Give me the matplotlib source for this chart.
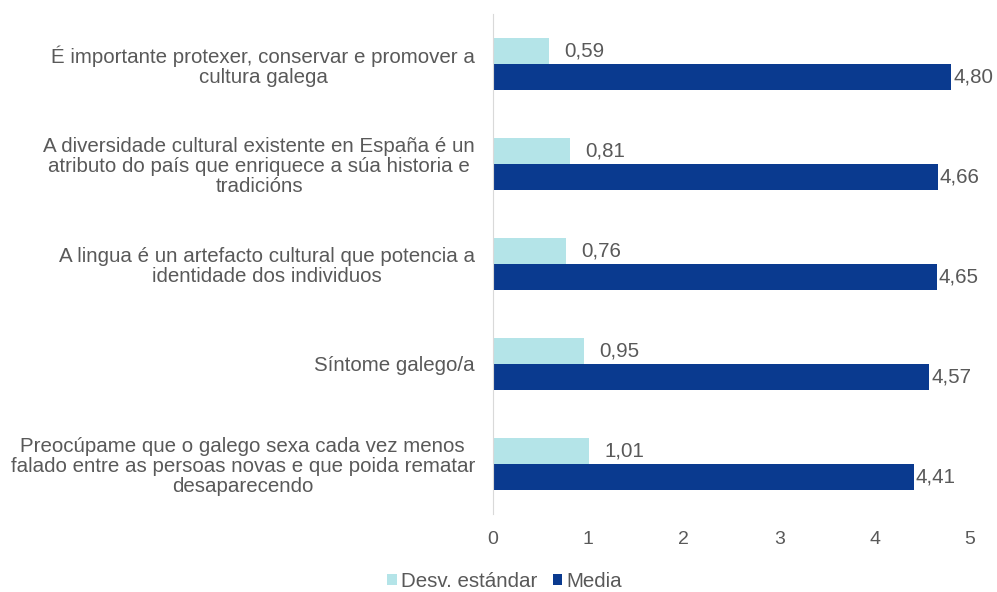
import numpy as np
import matplotlib.pyplot as plt

plt.rcParams['font.family'] = ['Liberation Sans', 'DejaVu Sans']

categories = [
    "É importante protexer, conservar e promover a\ncultura galega",
    "A diversidade cultural existente en España é un\natributo do país que enriquece a súa historia e\ntradicións",
    "A lingua é un artefacto cultural que potencia a\nidentidade dos individuos",
    "Síntome galego/a",
    "Preocúpame que o galego sexa cada vez menos\nfalado entre as persoas novas e que poida rematar\ndesaparecendo",
]
desv = [0.59, 0.81, 0.76, 0.95, 1.01]
media = [4.80, 4.66, 4.65, 4.57, 4.41]
xticks = [0, 1, 2, 3, 4, 5]

light = '#b4e4e8'
dark = '#0a3a8f'
grey = '#595959'
fs = 14.8

fig = plt.figure(figsize=(9.97, 5.92), dpi=100)
ax = fig.add_axes([0.4945, 0.132, 0.4785, 0.844])

y = np.arange(len(categories))
h = 0.26
b1 = ax.barh(y - h / 2, desv, height=h, color=light, label='Desv. estándar')
b2 = ax.barh(y + h / 2, media, height=h, color=dark, label='Media')

def fmt(v):
    return f"{v:.2f}".replace('.', ',')

ax.bar_label(b1, labels=[fmt(v) for v in desv], padding=11, fontsize=fs, color=grey)
ax.bar_label(b2, labels=[fmt(v) for v in media], padding=1.5, fontsize=fs, color=grey, clip_on=False)

ax.set_ylim(len(categories) - 0.5, -0.5)
ax.set_xlim(0, 5)
ax.set_xticks(xticks)
ax.set_xticklabels([str(t) for t in xticks], fontsize=14, color=grey)
ax.set_yticks(y)
ax.set_yticklabels(categories, fontsize=fs, color=grey)
for lab in ax.get_yticklabels():
    lab.set_multialignment('center')
    lab.set_linespacing(1.05)
ax.tick_params(axis='both', length=0)
ax.tick_params(axis='y', pad=13)
ax.tick_params(axis='x', pad=12)

for s in ['top', 'right', 'bottom']:
    ax.spines[s].set_visible(False)
ax.spines['left'].set_color('#d9d9d9')

fig.legend(handles=[b1, b2], loc='center', bbox_to_anchor=(0.506, 0.018), ncol=2,
           frameon=False, fontsize=fs, labelcolor=grey, handlelength=0.45,
           handleheight=0.45, handletextpad=0.2, columnspacing=0.75)

fig.savefig('out.png', dpi=100)
